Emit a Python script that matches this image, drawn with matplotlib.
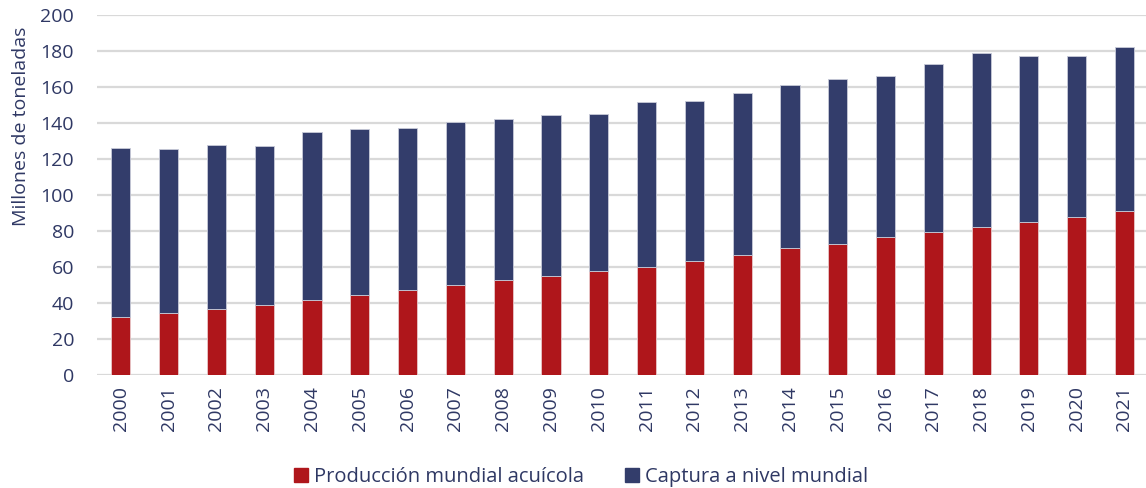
import numpy as np
import matplotlib.pyplot as plt
from matplotlib.patches import Patch

years = [str(y) for y in range(2000, 2022)]
acuicola = [32.0, 34.3, 36.5, 38.7, 41.7, 44.3, 47.0, 49.8, 52.8, 55.0, 57.8,
            60.0, 63.3, 66.7, 70.4, 72.8, 76.5, 79.6, 82.4, 85.2, 87.6, 91.1]
total = [125.9, 125.4, 127.8, 127.0, 134.8, 136.7, 137.4, 140.6, 142.4, 144.3, 144.8,
         151.5, 152.2, 156.7, 160.9, 164.4, 165.9, 172.8, 178.7, 177.4, 177.2, 182.0]
captura = [t - a for t, a in zip(total, acuicola)]

RED = "#AF161B"
NAVY = "#333D6B"
TXT = "#2F3864"

plt.rcParams['font.family'] = ['Open Sans', 'DejaVu Sans']

fig = plt.figure(figsize=(11.46, 4.88), dpi=100)
ax = fig.add_axes([97 / 1146, 113 / 488, 1 - 97 / 1146, 360 / 488])

x = np.arange(len(years))
w = 0.4
ax.bar(x, acuicola, w, color=RED, edgecolor="#e8c8ca", linewidth=0.6, zorder=3,
       label="Producción mundial acuícola")
ax.bar(x, captura, w, bottom=acuicola, color=NAVY, edgecolor="#c8cbd8", linewidth=0.6,
       zorder=3, label="Captura a nivel mundial")

ax.set_xlim(-0.5, 21.45)
ax.set_ylim(0, 200)
ax.set_yticks(range(0, 201, 20))
ax.yaxis.grid(True, color="#d9d9d9", linewidth=1.6, zorder=0)
ax.set_axisbelow(True)
for s in ax.spines.values():
    s.set_visible(False)
ax.tick_params(axis="both", length=0, labelsize=14, colors=TXT)
ax.tick_params(axis="y", pad=16.5)
ax.tick_params(axis="x", pad=8)
ax.set_xticks(x)
ax.set_xticklabels(years, rotation=90)
ax.set_ylabel("Millones de toneladas", fontsize=14, color=TXT)
ax.yaxis.set_label_coords(-0.064, 0.69)

handles = [Patch(color=RED), Patch(color=NAVY)]
fig.legend(handles, ["Producción mundial acuícola", "Captura a nivel mundial"],
           loc="center", bbox_to_anchor=(0.507, 11 / 488), ncol=2, frameon=False,
           fontsize=14.5, labelcolor=TXT, handlelength=0.7, handleheight=0.7,
           handletextpad=0.3, columnspacing=2.0)

fig.savefig("out.png", dpi=100)
